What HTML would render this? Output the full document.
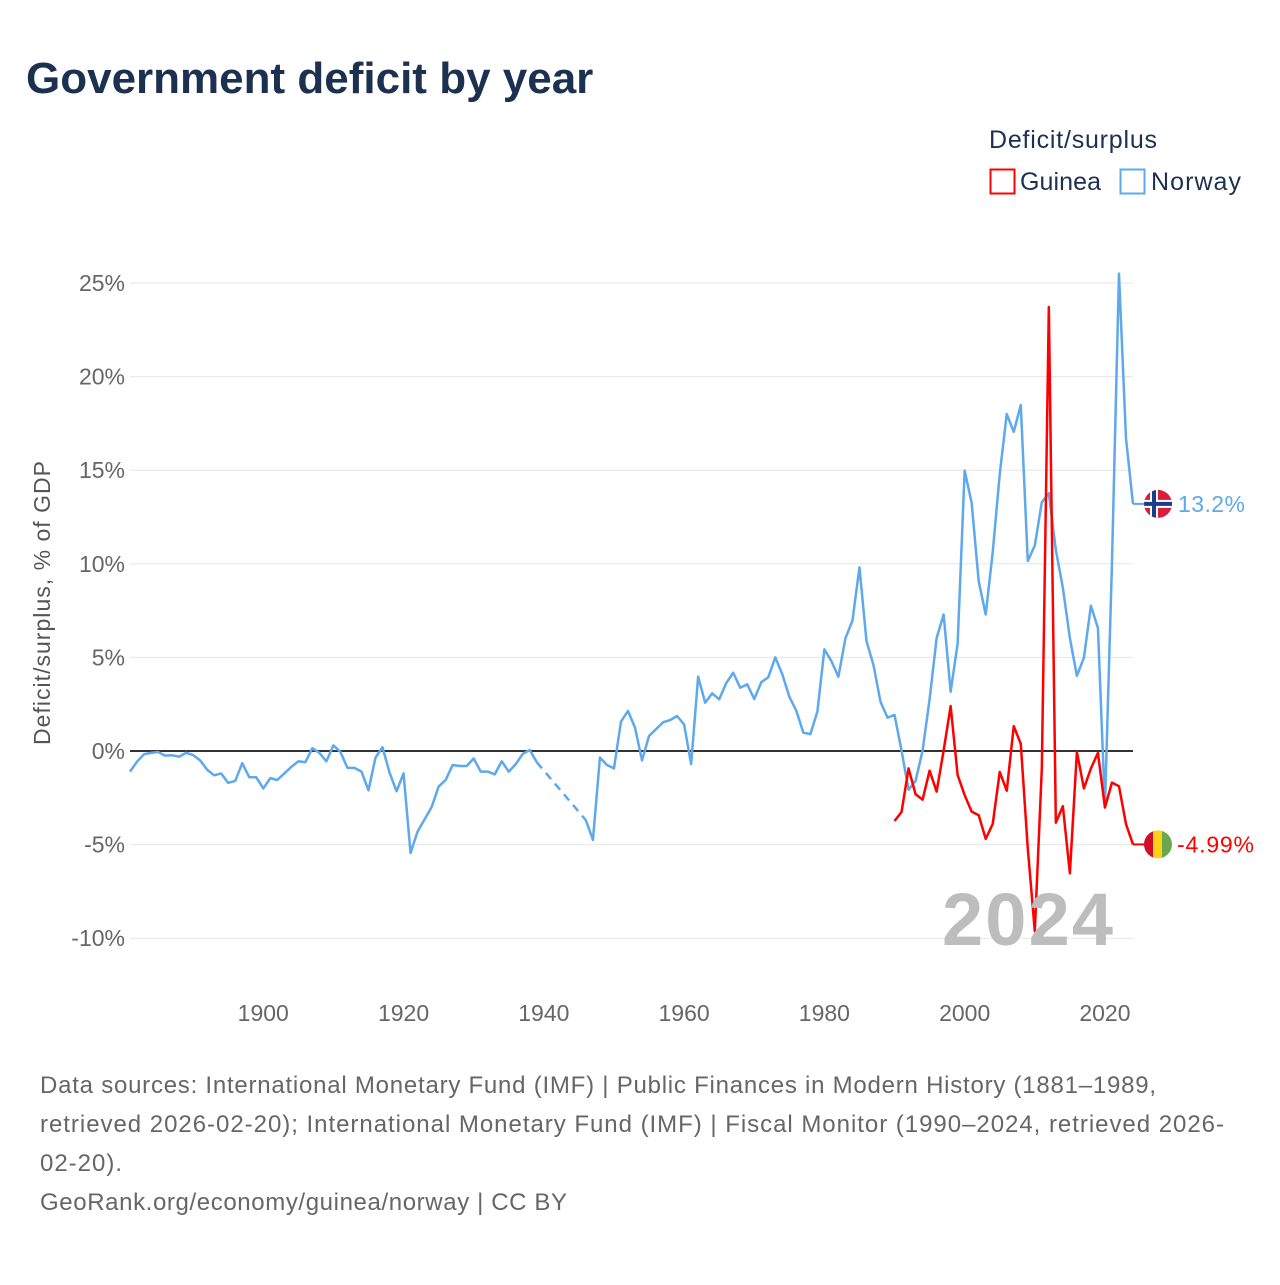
<!DOCTYPE html>
<html><head><meta charset="utf-8">
<style>
html,body{margin:0;padding:0;background:#fff;}
body{width:1280px;height:1280px;overflow:hidden;font-family:"Liberation Sans",sans-serif;}
svg text{font-family:"Liberation Sans",sans-serif;}
</style></head>
<body>
<svg id="chart" width="1280" height="1280" viewBox="0 0 1280 1280">
<text x="26" y="93" font-size="44" font-weight="bold" fill="#1c3050">Government deficit by year</text>
<g>
<text x="989" y="148" font-size="25" fill="#1c3050" textLength="168">Deficit/surplus</text>
<g>
<rect x="990.5" y="169.5" width="24" height="24" fill="none" stroke="#ff0000" stroke-width="2"/>
<text x="1020" y="190" font-size="25" fill="#1c3050" textLength="81">Guinea</text></g>
<g>
<rect x="1120.5" y="169.5" width="24" height="24" fill="none" stroke="#5ea8ec" stroke-width="2"/>
<text x="1151" y="190" font-size="25" fill="#1c3050" textLength="90">Norway</text></g>
</g>
<text transform="translate(50,603) rotate(-90)" text-anchor="middle" font-size="23" fill="#555" textLength="284">Deficit/surplus, % of GDP</text>
<g id="grid"></g><g id="yticks"></g><g id="xticks"></g><g id="series"></g>
<text x="1113" y="945" text-anchor="end" font-size="74" font-weight="bold" fill="#bdbdbd" textLength="171">2024</text>
<g id="labels"></g>
<text x="40" y="1093" font-size="24" fill="#666" textLength="1116">Data sources: International Monetary Fund (IMF) | Public Finances in Modern History (1881–1989,</text>
<text x="40" y="1132" font-size="24" fill="#666" textLength="1184">retrieved 2026-02-20); International Monetary Fund (IMF) | Fiscal Monitor (1990–2024, retrieved 2026-</text>
<text x="40" y="1171" font-size="24" fill="#666" textLength="82">02-20).</text>
<text x="40" y="1210" font-size="24" fill="#666" textLength="527">GeoRank.org/economy/guinea/norway | CC BY</text>
</svg>
<script>
const yTicks=[-10,-5,0,5,10,15,20,25];
const xTicks=[1900,1920,1940,1960,1980,2000,2020];
const norwayStart=1881;
const norwayValues=[-1.1,-0.57,-0.17,-0.1,-0.05,-0.25,-0.23,-0.3,-0.1,-0.22,-0.5,-1.0,-1.3,-1.2,-1.7,-1.6,-0.65,-1.4,-1.4,-2.0,
-1.45,-1.55,-1.2,-0.85,-0.55,-0.6,0.15,-0.1,-0.55,0.3,-0.05,-0.9,-0.9,-1.1,-2.1,-0.35,0.2,-1.15,-2.15,-1.2,
-5.45,-4.3,-3.65,-3.0,-1.9,-1.55,-0.75,-0.8,-0.8,-0.4,-1.1,-1.1,-1.25,-0.55,-1.1,-0.7,-0.15,0.05,-0.6,null,
null,null,null,null,null,-3.7,-4.75,-0.35,-0.75,-0.93,1.57,2.14,1.25,-0.5,0.8,1.17,1.53,1.65,1.87,1.42,
-0.7,3.97,2.58,3.08,2.76,3.62,4.18,3.38,3.56,2.78,3.67,3.94,5.0,4.1,2.9,2.15,0.98,0.9,2.1,5.43,
4.8,3.97,6.02,6.96,9.81,5.88,4.59,2.63,1.78,1.93,0.02,-2.07,-1.6,0.02,2.76,6.03,7.29,3.17,5.74,14.98,
13.24,9.07,7.29,10.62,14.79,18.0,17.05,18.48,10.15,10.98,13.29,13.77,10.74,8.72,6.03,4.02,4.98,7.76,6.57,-2.95,
10.03,25.5,16.7,13.2];
const guineaStart=1990;
const guineaValues=[-3.74,-3.26,-0.93,-2.31,-2.6,-1.05,-2.17,0.02,2.4,-1.29,-2.36,-3.24,-3.43,-4.69,-3.9,-1.12,-2.12,1.33,0.38,-5.21,
-9.62,-0.93,23.72,-3.83,-2.95,-6.53,-0.05,-2.0,-0.93,-0.1,-3.02,-1.69,-1.88,-3.9,-4.99];
const NS='http://www.w3.org/2000/svg';
const X0=130,X1=1133,YR0=1881,YR1=2024;
function xs(yr){return X0+(yr-YR0)*(X1-X0)/(YR1-YR0);}
function ys(v){return 751-v*18.72;}
function mk(tag,attrs,parent){const e=document.createElementNS(NS,tag);for(const k in attrs)e.setAttribute(k,attrs[k]);parent.appendChild(e);return e;}
const grid=document.getElementById('grid'),yt=document.getElementById('yticks'),xt=document.getElementById('xticks'),ser=document.getElementById('series'),lab=document.getElementById('labels');
yTicks.forEach(t=>{
  if(t!==0){const l=mk('line',{x1:X0,x2:X1,y1:ys(t),y2:ys(t),stroke:'#e6e6e6','stroke-width':1},grid);
  
  }
  const tx=mk('text',{x:125,y:ys(t)+8,'text-anchor':'end','font-size':23,fill:'#666'},yt);
  tx.textContent=t+'%';
  
  
});
xTicks.forEach(t=>{
  const tx=mk('text',{x:xs(t),y:1021,'text-anchor':'middle','font-size':23,fill:'#666'},xt);
  tx.textContent=t;
  
  
});
const zl=mk('line',{x1:X0,x2:X1,y1:ys(0),y2:ys(0),stroke:'#333','stroke-width':2},grid);


function drawSeries(start,vals,color,name){
  let segs=[],cur=[],lastPt=null,gaps=[];
  vals.forEach((v,i)=>{
    if(v===null){if(cur.length){segs.push(cur);cur=[];}return;}
    const p=[xs(start+i),ys(v)];
    if(!cur.length&&lastPt&&segs.length) gaps.push([lastPt,p]);
    cur.push(p);lastPt=p;
  });
  if(cur.length)segs.push(cur);
  segs.forEach(s=>{
    const pl=mk('polyline',{points:s.map(p=>p.join(',')).join(' '),fill:'none',stroke:color,'stroke-width':2.5,'stroke-linejoin':'round'},ser);
    
    
  });
  gaps.forEach(g=>{
    const dl=mk('line',{x1:g[0][0],y1:g[0][1],x2:g[1][0],y2:g[1][1],stroke:color,'stroke-width':2.5,'stroke-dasharray':'8,6'},ser);
    
    
  });
}
drawSeries(norwayStart,norwayValues,'#5ea8ec','norway');
drawSeries(guineaStart,guineaValues,'#ff0000','guinea');
const nv=norwayValues[norwayValues.length-1],gv=guineaValues[guineaValues.length-1];
const nl=mk('line',{x1:X1,x2:1145,y1:ys(nv),y2:ys(nv),stroke:'#5ea8ec','stroke-width':2},lab);


const gl=mk('line',{x1:X1,x2:1145,y1:ys(gv),y2:ys(gv),stroke:'#ff0000','stroke-width':2},lab);


const ny=ys(nv);
const nf=mk('g',{},lab);


const cpn=mk('clipPath',{id:'cn'},nf);mk('circle',{cx:1158,cy:ny,r:14},cpn);
const ng=mk('g',{'clip-path':'url(#cn)'},nf);
mk('rect',{x:1144,y:ny-14,width:28,height:28,fill:'#d81e3a'},ng);
mk('rect',{x:1144,y:ny-4,width:28,height:8,fill:'#fff'},ng);
mk('rect',{x:1150,y:ny-14,width:8,height:28,fill:'#fff'},ng);
mk('rect',{x:1144,y:ny-2,width:28,height:4,fill:'#1b3e8c'},ng);
mk('rect',{x:1152,y:ny-14,width:4,height:28,fill:'#1b3e8c'},ng);
const nt=mk('text',{x:1178,y:ny+8,'font-size':23,fill:'#5ea8ec',textLength:67},lab);
nt.textContent=nv.toFixed(1)+'%';


const gy=ys(gv);
const gf=mk('g',{},lab);


const cp=mk('clipPath',{id:'cg'},gf);mk('circle',{cx:1158,cy:gy,r:14},cp);
const gg=mk('g',{'clip-path':'url(#cg)'},gf);
mk('rect',{x:1144,y:gy-14,width:10,height:28,fill:'#ce1126'},gg);
mk('rect',{x:1153,y:gy-14,width:10,height:28,fill:'#fcd116'},gg);
mk('rect',{x:1162,y:gy-14,width:10,height:28,fill:'#6aa84f'},gg);
const gt=mk('text',{x:1177,y:gy+8,'font-size':23,fill:'#ff0000',textLength:77},lab);
gt.textContent=gv.toFixed(2)+'%';


</script>
</body></html>
